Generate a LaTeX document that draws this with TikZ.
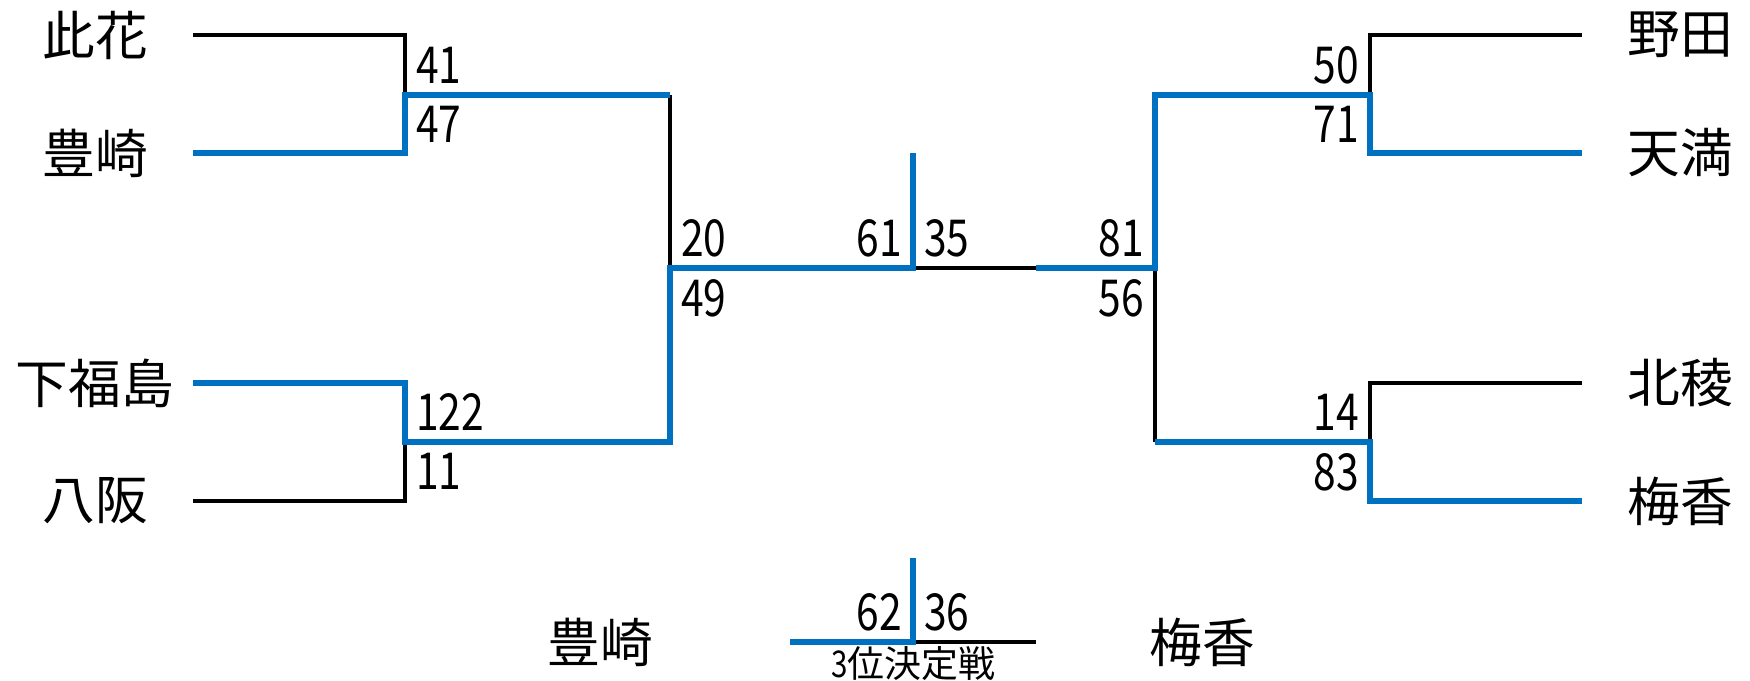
\documentclass[tikz,border=0pt]{standalone}
\usepackage{fontspec}
\setmainfont{Noto Sans CJK JP}
\newfontfamily\numfont[FakeStretch=0.8]{Noto Sans CJK JP}
\definecolor{winblue}{RGB}{0,112,192}
\tikzset{
	win/.style={draw=winblue, line width=1.65pt},
	lose/.style={draw=black, line width=0.95pt},
	team/.style={font=\fontsize{15}{18}\selectfont},
	score/.style={font=\numfont\fontsize{14.5}{17}\selectfont, inner sep=3pt},
}
\begin{document}
\begin{tikzpicture}[x=0.1mm, y=-0.1mm]
		\useasboundingbox (0,0) rectangle (1750,681);
		% teams and the free ends of their lines
		\foreach \n/\x/\lx/\y/\t in {kh/95/193/35/此花, ts/95/193/153/豊崎, sf/95/193/383/下福島, ys/95/193/501/八阪, nd/1680/1582/35/野田, tm/1680/1582/153/天満, hr/1680/1582/383/北稜, bk/1680/1582/501/梅香}{
			\node[team] (\n) at (\x,\y) {\t};
			\coordinate (\n0) at (\lx,\y);
		}
		\coordinate (m1) at (405,95);
		\coordinate (m2) at (405,442);
		\coordinate (s1) at (670,268);
		\coordinate (fin) at (913,268);
		\coordinate (fintop) at (913,153);
		\coordinate (finmid) at (1036,268);
		\coordinate (s2) at (1155,268);
		\coordinate (m3) at (1370,95);
		\coordinate (m4) at (1370,442);
		\coordinate (th) at (913,642);
		\coordinate (thtop) at (913,558);
		\coordinate (thl) at (790,642);
		\coordinate (thr) at (1036,642);
		
		% losers
		\draw[lose] (kh0) -| (m1);
		\draw[lose] (ys0) -| (m2);
		\draw[lose] (m1 -| s1) -- (s1);
		\draw[lose] (fin) -- (finmid);
		\draw[lose] (s2) -- (s2 |- m4);
		\draw[lose] (nd0) -| (m3);
		\draw[lose] (hr0) -| (m4);
		\draw[lose] (th) -- (thr);
		
		% winners
		\draw[win] (ts0) -| (m1) -- (m1 -| s1);
		\draw[win] (sf0) -| (m2) -| (s1) -- (fin) -- (fintop);
		\draw[win] (finmid) -- (s2) |- (m3) |- (tm0);
		\draw[win] (s2 |- m4) -- (m4) |- (bk0);
		\draw[win] (thl) -- (th) -- (thtop);
		
		\foreach \p/\a/\s in {m1/above right/41, m1/below right/47, m2/above right/122, m2/below right/11, s1/above right/20, s1/below right/49, fin/above left/61, fin/above right/35, s2/above left/81, s2/below left/56, m3/above left/50, m3/below left/71, m4/above left/14, m4/below left/83, th/above left/62, th/above right/36}{
			\node[score, \a] (sc\s) at (\p) {\s};
		}
		
		% third place match
		\node[below, inner sep=1pt, font=\fontsize{10.5}{12}\selectfont] (thname) at (th) {{\numfont 3}位決定戦};
		\node[team] (ts3) at (600,642) {豊崎};
		\node[team] (bk3) at (1202,642) {梅香};
\end{tikzpicture}
\end{document}
